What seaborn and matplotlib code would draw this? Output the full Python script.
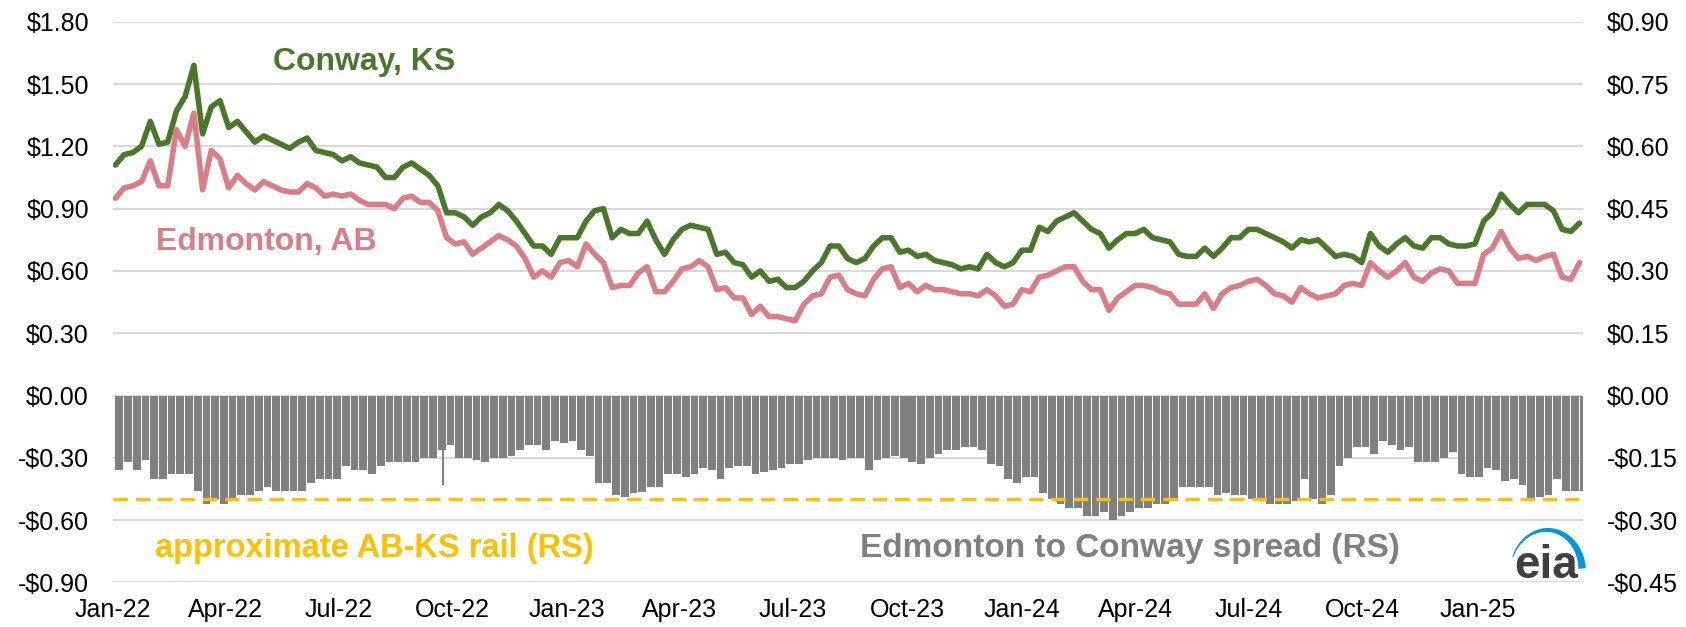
import numpy as np
import pandas as pd
import matplotlib.pyplot as plt
import matplotlib.dates as mdates
from matplotlib.ticker import FuncFormatter
from matplotlib.patches import Polygon
import seaborn as sns

# weekly values, first week starting Mon 3 Jan 2022 ($/gal)
week_start = "2022-01-03"

conway = [
    1.11, 1.16, 1.17, 1.20, 1.32, 1.21, 1.22, 1.37, 1.44, 1.59,
    1.26, 1.39, 1.42, 1.29, 1.32, 1.27, 1.22, 1.25, 1.23, 1.21,
    1.19, 1.22, 1.24, 1.18, 1.17, 1.16, 1.13, 1.15, 1.12, 1.11,
    1.10, 1.05, 1.05, 1.10, 1.12, 1.09, 1.06, 1.01, 0.88, 0.88,
    0.86, 0.82, 0.86, 0.88, 0.92, 0.89, 0.84, 0.78, 0.72, 0.72,
    0.68, 0.76, 0.76, 0.76, 0.84, 0.89, 0.90, 0.76, 0.80, 0.78,
    0.78, 0.84, 0.75, 0.68, 0.75, 0.80, 0.82, 0.81, 0.80, 0.68,
    0.69, 0.64, 0.63, 0.57, 0.60, 0.55, 0.56, 0.52, 0.52, 0.55,
    0.60, 0.64, 0.72, 0.72, 0.66, 0.64, 0.66, 0.72, 0.76, 0.76,
    0.69, 0.70, 0.67, 0.68, 0.65, 0.64, 0.63, 0.61, 0.62, 0.61,
    0.68, 0.64, 0.62, 0.64, 0.70, 0.70, 0.81, 0.79, 0.84, 0.86,
    0.88, 0.84, 0.80, 0.78, 0.71, 0.75, 0.78, 0.78, 0.80, 0.76,
    0.75, 0.74, 0.68, 0.67, 0.67, 0.71, 0.67, 0.71, 0.76, 0.76,
    0.80, 0.80, 0.78, 0.76, 0.74, 0.71, 0.75, 0.74, 0.75, 0.71,
    0.67, 0.68, 0.67, 0.64, 0.78, 0.72, 0.69, 0.73, 0.76, 0.72,
    0.71, 0.76, 0.76, 0.73, 0.72, 0.72, 0.73, 0.84, 0.88, 0.97,
    0.92, 0.88, 0.92, 0.92, 0.92, 0.89, 0.80, 0.79, 0.83,
]

edmonton = [
    0.95, 1.00, 1.01, 1.03, 1.13, 1.01, 1.01, 1.28, 1.20, 1.36,
    0.99, 1.18, 1.14, 1.00, 1.06, 1.02, 0.99, 1.03, 1.01, 0.99,
    0.98, 0.98, 1.02, 1.00, 0.96, 0.97, 0.96, 0.97, 0.94, 0.92,
    0.92, 0.92, 0.90, 0.95, 0.96, 0.93, 0.93, 0.89, 0.76, 0.73,
    0.74, 0.68, 0.71, 0.74, 0.77, 0.75, 0.72, 0.66, 0.57, 0.60,
    0.57, 0.64, 0.65, 0.62, 0.73, 0.68, 0.64, 0.52, 0.53, 0.53,
    0.59, 0.62, 0.50, 0.50, 0.55, 0.61, 0.62, 0.65, 0.62, 0.51,
    0.52, 0.47, 0.47, 0.39, 0.43, 0.38, 0.38, 0.37, 0.36, 0.44,
    0.48, 0.49, 0.57, 0.58, 0.51, 0.49, 0.48, 0.56, 0.61, 0.62,
    0.52, 0.54, 0.50, 0.53, 0.51, 0.51, 0.50, 0.49, 0.49, 0.48,
    0.51, 0.48, 0.43, 0.44, 0.51, 0.50, 0.57, 0.58, 0.60, 0.62,
    0.62, 0.55, 0.51, 0.51, 0.41, 0.47, 0.50, 0.53, 0.53, 0.52,
    0.50, 0.49, 0.44, 0.44, 0.44, 0.49, 0.42, 0.49, 0.52, 0.53,
    0.55, 0.56, 0.53, 0.49, 0.48, 0.45, 0.52, 0.49, 0.47, 0.48,
    0.49, 0.53, 0.54, 0.53, 0.64, 0.60, 0.57, 0.60, 0.64, 0.57,
    0.55, 0.59, 0.61, 0.60, 0.54, 0.54, 0.54, 0.68, 0.71, 0.79,
    0.71, 0.66, 0.67, 0.65, 0.67, 0.68, 0.57, 0.56, 0.64,
]

# Edmonton minus Conway, right scale
spread = [
    -0.18, -0.16, -0.18, -0.155, -0.20, -0.20, -0.19, -0.19, -0.19, -0.23,
    -0.26, -0.25, -0.26, -0.25, -0.24, -0.24, -0.23, -0.22, -0.23, -0.23,
    -0.23, -0.23, -0.21, -0.20, -0.20, -0.20, -0.17, -0.18, -0.18, -0.19,
    -0.17, -0.16, -0.16, -0.16, -0.16, -0.15, -0.15, -0.13, -0.12, -0.15,
    -0.15, -0.154, -0.16, -0.15, -0.15, -0.146, -0.13, -0.12, -0.12, -0.13,
    -0.11, -0.115, -0.11, -0.13, -0.145, -0.21, -0.21, -0.24, -0.245, -0.235,
    -0.233, -0.22, -0.22, -0.19, -0.19, -0.195, -0.19, -0.175, -0.18, -0.20,
    -0.175, -0.17, -0.17, -0.19, -0.185, -0.18, -0.175, -0.165, -0.165, -0.155,
    -0.15, -0.15, -0.15, -0.155, -0.15, -0.15, -0.18, -0.155, -0.15, -0.145,
    -0.15, -0.16, -0.165, -0.15, -0.14, -0.13, -0.13, -0.125, -0.125, -0.13,
    -0.165, -0.17, -0.20, -0.21, -0.195, -0.195, -0.235, -0.25, -0.26, -0.27,
    -0.27, -0.29, -0.29, -0.28, -0.30, -0.29, -0.28, -0.27, -0.27, -0.26,
    -0.26, -0.255, -0.22, -0.22, -0.22, -0.22, -0.24, -0.235, -0.24, -0.24,
    -0.25, -0.255, -0.26, -0.26, -0.26, -0.255, -0.20, -0.25, -0.26, -0.24,
    -0.17, -0.15, -0.125, -0.123, -0.14, -0.11, -0.12, -0.13, -0.125, -0.16,
    -0.16, -0.16, -0.15, -0.135, -0.19, -0.195, -0.195, -0.175, -0.18, -0.205,
    -0.20, -0.215, -0.25, -0.245, -0.24, -0.20, -0.23, -0.23, -0.23,
]

# one-day blip in late Sep 2022
spike_dates = ["2022-09-23"]
spike_values = [-0.215]

rail_cost = -0.25

x_ticks = pd.date_range("2022-01-01", "2025-01-01", freq="QS")

green = "#4A7729"
pink = "#D97D88"
gold = "#FFC000"
bar_gray = "#808080"

df = pd.DataFrame({
    "date": pd.date_range(week_start, periods=len(conway), freq="7D"),
    "Conway, KS": conway,
    "Edmonton, AB": edmonton,
    "spread": spread,
})

sns.set_style("white")
plt.rcParams["font.family"] = ["Liberation Sans", "DejaVu Sans"]

W, H = 1686, 627
fig = plt.figure(figsize=(W / 100, H / 100), dpi=100)
ax = fig.add_axes([0.0668, 0.0710, 0.8721, 0.8944])
ax2 = ax.twinx()

# spread bars on right axis
ax2.bar(df["date"], df["spread"], width=6.2, align="edge", color=bar_gray, linewidth=0)
ax2.bar(pd.to_datetime(spike_dates), spike_values, width=1.2, color=bar_gray, linewidth=0)
ax2.axhline(rail_cost, color=gold, lw=2.4, dashes=(4.3, 2.4))

sns.lineplot(data=df, x="date", y="Conway, KS", ax=ax, color=green, lw=4.0,
             legend=False, solid_capstyle="round", solid_joinstyle="round")
sns.lineplot(data=df, x="date", y="Edmonton, AB", ax=ax, color=pink, lw=4.0,
             legend=False, solid_capstyle="round", solid_joinstyle="round")


def money(v, pos):
    if v < -1e-9:
        return f"-${-v:.2f}"
    return f"${abs(v):.2f}"


ax.set_ylim(-0.9, 1.8)
ax.set_yticks(np.arange(-0.9, 1.81, 0.3))
ax2.set_ylim(-0.45, 0.9)
ax2.set_yticks(np.arange(-0.45, 0.91, 0.15))
ax.yaxis.set_major_formatter(FuncFormatter(money))
ax2.yaxis.set_major_formatter(FuncFormatter(money))

ax.set_xlim(pd.Timestamp("2021-12-31 18:00"), pd.Timestamp("2025-03-26 18:00"))
ax.set_xticks(x_ticks)
ax.xaxis.set_major_formatter(mdates.DateFormatter("%b-%y"))

ax.grid(axis="y", color="#D9D9D9", lw=1.5)
ax.grid(axis="x", visible=False)
ax.set_axisbelow(True)

for a in (ax, ax2):
    for s in a.spines.values():
        s.set_visible(False)
    a.set_xlabel("")
    a.set_ylabel("")
ax.tick_params(axis="y", length=0, pad=17, labelsize=18, colors="black")
ax2.tick_params(axis="y", length=0, pad=17, labelsize=18, colors="black")
ax.tick_params(axis="x", length=0, pad=11, labelsize=18, colors="black")

# series labels and notes
fig.text(0.2159, 0.8884, "Conway, KS", color=green, fontsize=23, fontweight="bold",
         ha="center", va="baseline")
fig.text(0.1578, 0.6013, "Edmonton, AB", color=pink, fontsize=23, fontweight="bold",
         ha="center", va="baseline")
fig.text(0.0919, 0.1116, "approximate AB-KS rail (RS)", color=gold, fontsize=23.5,
         fontweight="bold", ha="left", va="baseline")
fig.text(0.8304, 0.1116, "Edmonton to Conway spread (RS)", color=bar_gray, fontsize=24,
         fontweight="bold", ha="right", va="baseline")

# eia logo: word plus a blue swoosh that thickens to the right
fig.text(0.9170, 0.0781, "eia", color="#3F3F3F", fontsize=33, fontweight="bold",
         ha="center", va="baseline")
t = np.radians(np.linspace(160, 5, 60))
thick = np.linspace(1.0, 7.5, 60)
cx, cy, rx, ry = 1548, 572, 38, 44
outer = np.column_stack([cx + rx * np.cos(t), cy - ry * np.sin(t)])
inner = np.column_stack([cx + (rx - thick) * np.cos(t), cy - (ry - thick) * np.sin(t)])
pts = np.vstack([outer, inner[::-1]])
pts = np.column_stack([pts[:, 0] / W, 1 - pts[:, 1] / H])
fig.add_artist(Polygon(pts, closed=True, facecolor="#0096D7", edgecolor="none",
                       transform=fig.transFigure))

fig.savefig("out.png", dpi=100)
